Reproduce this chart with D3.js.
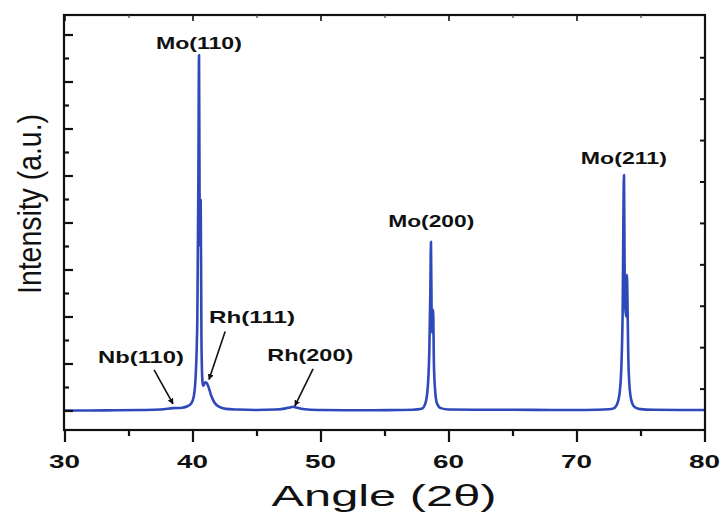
<!DOCTYPE html>
<html>
<head>
<meta charset="utf-8">
<script src="https://cdn.jsdelivr.net/npm/d3@7"></script>
<style>
  html, body { margin: 0; padding: 0; background: #fff; }
  svg { display: block; }
  text { font-family: "Liberation Sans", Arial, sans-serif; fill: #111; }
</style>
</head>
<body>
<svg id="chart" width="725" height="512"></svg>
<script>
// XRD pattern: diffraction angle (2θ, degrees) and intensity (a.u.)
const angles = [
  30, 32, 34, 36, 37.5, 38.5, 39.2, 39.6, 39.9, 40.1, 40.25, 40.38, 40.46, 40.51,
  40.56, 40.6, 40.64, 40.7, 40.76, 40.82, 40.9, 41.0, 41.1, 41.25, 41.45, 41.7,
  42.1, 42.6, 43.5, 45, 46.5, 47.3, 47.6, 47.85, 48.1, 48.5, 49.2, 50, 52, 54,
  56, 57.2, 57.9, 58.16, 58.35, 58.5, 58.58, 58.63, 58.69, 58.74, 58.8, 58.86,
  58.95, 59.1, 59.4, 60, 62, 65, 68, 70, 71.5, 72.5, 72.9, 73.1, 73.25, 73.38,
  73.5, 73.6, 73.71, 73.76, 73.82, 73.88, 73.94, 74.0, 74.05, 74.12, 74.2, 74.3,
  74.45, 74.7, 75, 76, 78, 80
];
const intensity = [
  0.0, 0.0, 0.01, 0.02, 0.04, 0.1, 0.12, 0.18, 0.3, 0.6, 1.5, 4.0, 10.0, 15.13,
  8.0, 7.0, 8.96, 3.0, 1.4, 1.05, 1.1, 1.2, 1.18, 1.0, 0.65, 0.35,
  0.15, 0.07, 0.04, 0.02, 0.04, 0.09, 0.13, 0.16, 0.13, 0.07, 0.03, 0.02, 0.01, 0.01,
  0.02, 0.03, 0.07, 0.25, 0.8, 2.5, 5.0, 7.18, 3.6, 3.3, 4.28, 2.0,
  0.9, 0.3, 0.1, 0.04, 0.03, 0.03, 0.02, 0.02, 0.03, 0.05, 0.09, 0.2, 0.4, 0.8,
  1.8, 4.0, 10.02, 6.0, 4.3, 4.0, 5.77, 4.0, 2.2, 1.2, 0.7, 0.4,
  0.2, 0.1, 0.06, 0.03, 0.02, 0.02
];

// Reflection labels: text, anchor position (angle, intensity of label baseline)
const peakNames  = ["Mo(110)", "Mo(200)", "Mo(211)", "Nb(110)", "Rh(111)", "Rh(200)"];
const peakLabelX = [40.5, 58.65, 73.7, 35.98, 44.65, 49.2];
const peakLabelY = [15.4, 7.82, 10.5, 2.02, 3.73, 2.1];
// Arrows pointing at the weak reflections: start and tip (angle, intensity)
const arrowNames = ["Nb(110)", "Rh(111)", "Rh(200)"];
const arrowFrom  = [[37.0, 1.73], [42.55, 3.36], [49.42, 1.77]];
const arrowTo    = [[38.48, 0.28], [41.29, 1.32], [48.0, 0.2]];

const xTicks = [30, 40, 50, 60, 70, 80];
const xMinor = [35, 45, 55, 65, 75];
const yTicks = d3.range(0, 17);          // left axis, inward ticks
const rightTicks = d3.range(1, 10);      // right axis, inward ticks

const svg = d3.select("#chart");
const frameL = 64, frameR = 705, frameT = 15, frameB = 430;

const x = d3.scaleLinear().domain([30, 80]).range([64.5, 704.5]);
const y = d3.scaleLinear().domain([-0.83, 16.83]).range([frameB, frameT]);
const yR = d3.scaleLinear().domain([0, 10.02]).range([frameB, frameT]);

const blue = "#2f48ba";

// data trace
const line = d3.line()
  .x((d, i) => x(angles[i]))
  .y(d => y(d))
  .curve(d3.curveMonotoneX);

const plot = svg.append("g");
plot.append("clipPath").attr("id", "clip")
  .append("rect").attr("x", frameL).attr("y", frameT)
  .attr("width", frameR - frameL).attr("height", frameB - frameT);
plot.append("path")
  .datum(intensity)
  .attr("clip-path", "url(#clip)")
  .attr("d", line)
  .attr("fill", "none")
  .attr("stroke", blue)
  .attr("stroke-width", 2.6)
  .attr("stroke-linejoin", "round");

// frame
svg.append("rect")
  .attr("x", frameL).attr("y", frameT)
  .attr("width", frameR - frameL).attr("height", frameB - frameT)
  .attr("fill", "none").attr("stroke", "#111").attr("stroke-width", 2.2);

// bottom axis: ticks outward
svg.append("g").attr("transform", `translate(0,${frameB})`)
  .call(d3.axisBottom(x).tickValues(xTicks).tickSize(12).tickFormat(""))
  .call(g => g.select(".domain").remove())
  .selectAll("line").attr("stroke", "#111").attr("stroke-width", 2.2);
svg.append("g").attr("transform", `translate(0,${frameB})`)
  .call(d3.axisBottom(x).tickValues(xMinor).tickSize(6).tickFormat(""))
  .call(g => g.select(".domain").remove())
  .selectAll("line").attr("stroke", "#111").attr("stroke-width", 2.2);

// x tick labels
svg.append("g").selectAll("text")
  .data(xTicks).join("text")
  .attr("x", d => x(d)).attr("y", 468)
  .attr("text-anchor", "middle")
  .attr("font-weight", "bold")
  .attr("font-size", 19)
  .attr("textLength", 31)
  .attr("lengthAdjust", "spacingAndGlyphs")
  .text(d => d);

// top axis: small inward ticks
svg.append("g").attr("transform", `translate(0,${frameT})`)
  .call(d3.axisBottom(x).tickValues(xTicks).tickSize(6).tickFormat(""))
  .call(g => g.select(".domain").remove())
  .selectAll("line").attr("stroke", "#111").attr("stroke-width", 1.6);
svg.append("g").attr("transform", `translate(0,${frameT})`)
  .call(d3.axisBottom(x).tickValues(xMinor).tickSize(3).tickFormat(""))
  .call(g => g.select(".domain").remove())
  .selectAll("line").attr("stroke", "#444").attr("stroke-width", 1.2);

// left axis: alternating long / short inward ticks
svg.append("g").attr("transform", `translate(${frameL},0)`)
  .call(d3.axisRight(y).tickValues(yTicks.filter(v => v % 2 === 0)).tickSize(9).tickFormat(""))
  .call(g => g.select(".domain").remove())
  .selectAll("line").attr("stroke", "#111").attr("stroke-width", 2.2);
svg.append("g").attr("transform", `translate(${frameL},0)`)
  .call(d3.axisRight(y).tickValues(yTicks.filter(v => v % 2 === 1)).tickSize(5).tickFormat(""))
  .call(g => g.select(".domain").remove())
  .selectAll("line").attr("stroke", "#111").attr("stroke-width", 2.2);

// right axis: short inward ticks
svg.append("g").attr("transform", `translate(${frameR},0)`)
  .call(d3.axisLeft(yR).tickValues(rightTicks).tickSize(5).tickFormat(""))
  .call(g => g.select(".domain").remove())
  .selectAll("line").attr("stroke", "#111").attr("stroke-width", 2);

// axis titles
svg.append("text")
  .attr("x", 384).attr("y", 506)
  .attr("text-anchor", "middle")
  .attr("font-size", 30)
  .attr("textLength", 225)
  .attr("lengthAdjust", "spacingAndGlyphs")
  .text("Angle (2θ)");

svg.append("text")
  .attr("transform", "translate(41,204) rotate(-90)")
  .attr("text-anchor", "middle")
  .attr("font-size", 34)
  .attr("textLength", 180)
  .attr("lengthAdjust", "spacingAndGlyphs")
  .text("Intensity (a.u.)");

// arrowhead marker
svg.append("defs").append("marker")
  .attr("id", "head")
  .attr("viewBox", "0 0 10 10")
  .attr("refX", 9).attr("refY", 5)
  .attr("markerWidth", 6).attr("markerHeight", 6)
  .attr("markerUnits", "userSpaceOnUse")
  .attr("orient", "auto")
  .append("path").attr("d", "M0,0 L10,5 L0,10 Z").attr("fill", "#111");

svg.append("g").selectAll("line")
  .data(arrowNames).join("line")
  .attr("x1", (d, i) => x(arrowFrom[i][0])).attr("y1", (d, i) => y(arrowFrom[i][1]))
  .attr("x2", (d, i) => x(arrowTo[i][0])).attr("y2", (d, i) => y(arrowTo[i][1]))
  .attr("stroke", "#111").attr("stroke-width", 1.6)
  .attr("marker-end", "url(#head)");

// reflection labels
svg.append("g").selectAll("text")
  .data(peakNames).join("text")
  .attr("x", (d, i) => x(peakLabelX[i]))
  .attr("y", (d, i) => y(peakLabelY[i]))
  .attr("text-anchor", "middle")
  .attr("font-weight", "bold")
  .attr("font-size", 17)
  .attr("textLength", 86)
  .attr("lengthAdjust", "spacingAndGlyphs")
  .text(d => d);
</script>
</body>
</html>
